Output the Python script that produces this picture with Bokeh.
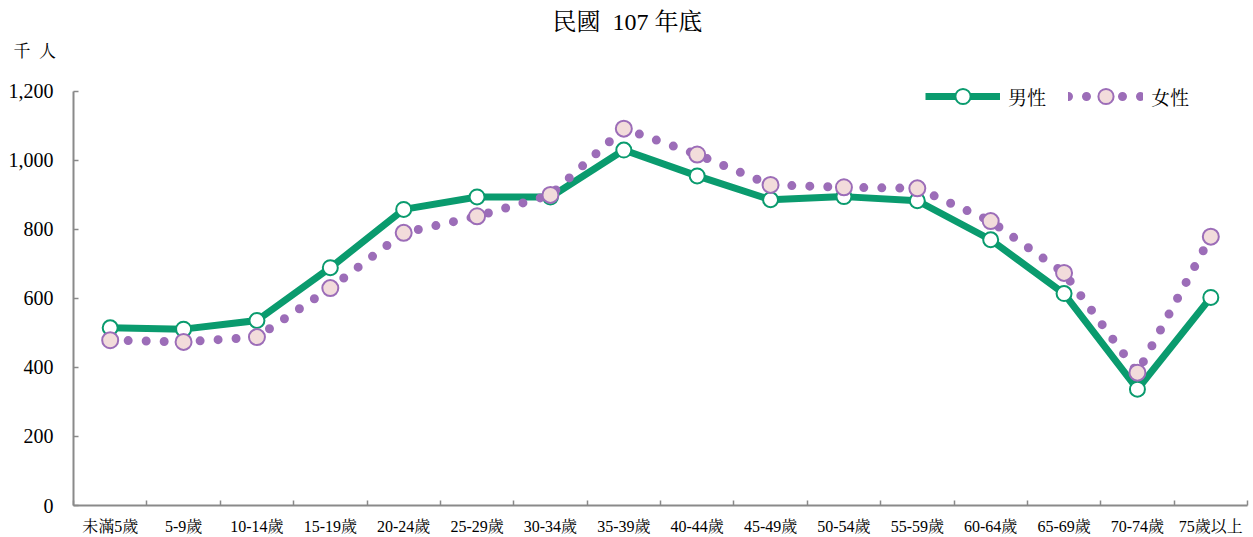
import numpy as np
from bokeh.plotting import figure
from bokeh.models import (Range1d, FixedTicker, NumeralTickFormatter, Legend, LegendItem, Title)
from bokeh.embed import file_html
from bokeh.resources import INLINE

categories = ["未滿5歲", "5-9歲", "10-14歲", "15-19歲", "20-24歲", "25-29歲", "30-34歲", "35-39歲",
              "40-44歲", "45-49歲", "50-54歲", "55-59歲", "60-64歲", "65-69歲", "70-74歲", "75歲以上"]
male = [515, 511, 536, 689, 858, 894, 894, 1030, 955, 886, 895, 883, 770, 614, 337, 603]
female = [479, 474, 488, 630, 790, 838, 900, 1092, 1017, 929, 922, 919, 824, 674, 385, 779]
y_ticks = [0, 200, 400, 600, 800, 1000, 1200]

FONT = "'Liberation Serif', 'Noto Serif CJK TC', 'Noto Sans CJK TC', serif"
GREEN = "#0a9b6e"
PURPLE = "#9c6db8"
PINK = "#f2dcdb"
AXIS = "#8a8a8a"

n = len(categories)
xc = [i + 0.5 for i in range(n)]
bounds = [float(i) for i in range(n + 1)]

# frame: 60px top border, 30px bottom border -> 447px tall; 1200 sits 416px above the base
y_top = 1200 * 447 / 416

p = figure(width=1253, height=537, output_backend="svg", toolbar_location=None, title=None,
           x_range=Range1d(0, n), y_range=Range1d(0, y_top),
           min_border_left=73, min_border_right=6, min_border_top=60, min_border_bottom=30)

unit_title = Title(text="千\u2002人", align="left", offset=-60, standoff=0,
                   text_font=FONT, text_font_size="17px", text_font_style="normal", text_color="#000000")
p.add_layout(unit_title, "above")
main_title = Title(text="民國\u2002107 年底", align="left", offset=479, standoff=10,
                   text_font=FONT, text_font_size="24px", text_font_style="normal", text_color="#000000")
p.add_layout(main_title, "above")

p.outline_line_color = None
p.grid.visible = False
p.background_fill_color = "white"

# x axis
xa = p.xaxis[0]
xa.ticker = FixedTicker(ticks=xc, minor_ticks=bounds)
xa.major_label_overrides = {x: c for x, c in zip(xc, categories)}
xa.major_tick_line_color = None
xa.major_tick_in = 0
xa.major_tick_out = 0
xa.minor_tick_in = 5
xa.minor_tick_out = 0
xa.minor_tick_line_color = AXIS
xa.minor_tick_line_width = 1.5
xa.axis_line_color = AXIS
xa.axis_line_width = 2
xa.major_label_text_font = FONT
xa.major_label_text_font_size = "16px"
xa.major_label_text_color = "#000000"
xa.major_label_standoff = 12

# y axis
ya = p.yaxis[0]
ya.ticker = FixedTicker(ticks=y_ticks)
ya.bounds = (0, 1200)
ya.formatter = NumeralTickFormatter(format="0,0")
ya.major_tick_in = 5
ya.major_tick_out = 0
ya.major_tick_line_color = AXIS
ya.major_tick_line_width = 1.5
ya.minor_tick_line_color = None
ya.axis_line_color = AXIS
ya.axis_line_width = 2
ya.major_label_text_font = FONT
ya.major_label_text_font_size = "20px"
ya.major_label_text_color = "#000000"
ya.major_label_standoff = 20

m_line = p.line(xc, male, line_color=GREEN, line_width=7, line_join="round")
m_pts = p.scatter(xc, male, size=15, fill_color="white", line_color=GREEN, line_width=2)
f_line = p.line(xc, female, line_color=PURPLE, line_width=9, line_dash="0 18", line_cap="round")
f_pts = p.scatter(xc, female, size=16, fill_color=PINK, line_color=PURPLE, line_width=2)

legend = Legend(items=[LegendItem(label="男性", renderers=[m_line, m_pts]),
                       LegendItem(label="女性", renderers=[f_line, f_pts])],
                orientation="horizontal", location=(852, 390),
                glyph_width=75, glyph_height=38, label_standoff=8, spacing=22,
                padding=0, margin=0, border_line_color=None, background_fill_alpha=0,
                label_text_font=FONT, label_text_font_size="19px", label_text_color="#000000")
p.add_layout(legend)

open("out.html", "w").write(file_html(p, INLINE))
